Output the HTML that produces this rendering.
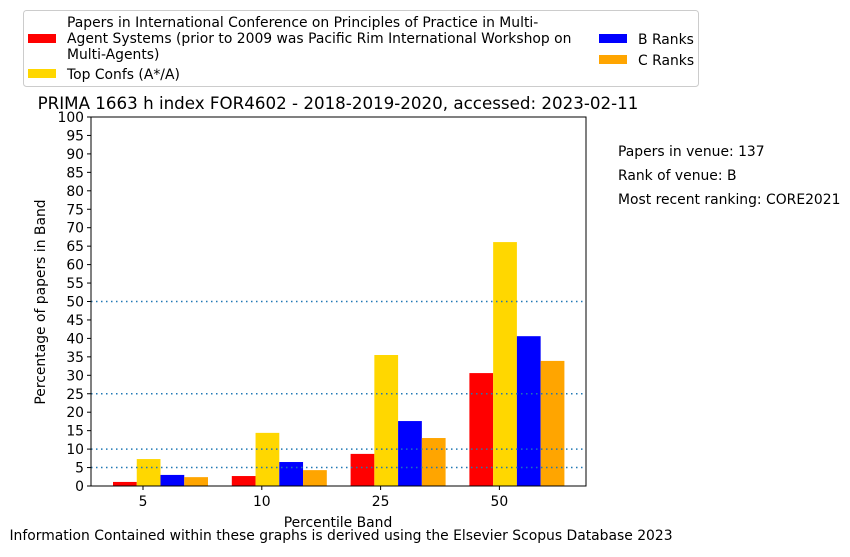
<!DOCTYPE html>
<html><head><meta charset="utf-8"><style>
body{margin:0;background:#fff;font-family:"Liberation Sans","DejaVu Sans",sans-serif;}
svg text{font-family:"DejaVu Sans","Liberation Sans",sans-serif;}
</style></head><body>
<svg id="chart" width="850" height="552" viewBox="0 0 850 552" xmlns="http://www.w3.org/2000/svg">
<g>
<rect x="23.5" y="10.5" width="675" height="76" fill="#fff" stroke="#ccc" rx="3"/>
<rect x="28" y="34" width="28" height="9" fill="#ff0000"/>
<text x="67" y="27" font-size="13.9"><tspan x="67">Papers in International Conference on Principles of Practice in Multi-</tspan><tspan x="67" dy="16">Agent Systems (prior to 2009 was Pacific Rim International Workshop on</tspan><tspan x="67" dy="16">Multi-Agents)</tspan></text>
<rect x="28" y="69" width="28" height="9" fill="#ffd700"/>
<text x="67" y="79" font-size="13.9">Top Confs (A*/A)</text>
<rect x="599" y="34" width="28" height="9" fill="#0000ff"/>
<text x="638" y="44" font-size="13.9">B Ranks</text>
<rect x="599" y="55" width="28" height="9" fill="#ffa500"/>
<text x="638" y="65" font-size="13.9">C Ranks</text>
</g>
<text x="338" y="109" font-size="16.7" text-anchor="middle">PRIMA 1663 h index FOR4602 - 2018-2019-2020, accessed: 2023-02-11</text>
<g id="yaxis"></g>
<g id="bars"></g>
<g id="refs"></g>
<g id="xaxis"></g>
<rect x="91" y="117" width="495" height="369" fill="none" stroke="#000" stroke-width="1"/>
<text x="45" y="302" font-size="13.9" text-anchor="middle" transform="rotate(-90 45 302)">Percentage of papers in Band</text>
<text x="338" y="527" font-size="13.9" text-anchor="middle">Percentile Band</text>
<text x="618" y="156" font-size="13.9">Papers in venue: 137</text>
<text x="618" y="180" font-size="13.9">Rank of venue: B</text>
<text x="618" y="204" font-size="13.9">Most recent ranking: CORE2021</text>
<text x="341" y="540" font-size="13.9" text-anchor="middle">Information Contained within these graphs is derived using the Elsevier Scopus Database 2023</text>
</svg>
<script>
const categories = ["5","10","25","50"];
const venueVals = [1.1, 2.7, 8.7, 30.6];
const topVals = [7.3, 14.4, 35.5, 66.1];
const bVals = [3.0, 6.5, 17.6, 40.6];
const cVals = [2.4, 4.3, 13.0, 33.9];
const refLines = [5, 10, 25, 50];
const yTicks = [0,5,10,15,20,25,30,35,40,45,50,55,60,65,70,75,80,85,90,95,100];
const NS = "http://www.w3.org/2000/svg";
function y(v){return 486 - v*3.69;}
function x(i){return 143 + i*118.8;}
const bw = 23.75;
function mk(tag, attrs, parent){const e=document.createElementNS(NS,tag);for(const k in attrs)e.setAttribute(k,attrs[k]);parent.appendChild(e);return e;}
const yax=document.getElementById('yaxis');
yTicks.forEach(t=>{
  const l=mk('line',{x1:87,x2:91,y1:y(t),y2:y(t),stroke:'#000'},yax);
  
  
  const tx=mk('text',{x:84,y:y(t)+5,'font-size':13.9,'text-anchor':'end'},yax);
  tx.textContent=t;
  
  
});
const series=[[venueVals,'#ff0000','venue'],[topVals,'#ffd700','top'],[bVals,'#0000ff','b-rank'],[cVals,'#ffa500','c-rank']];
const bars=document.getElementById('bars');
series.forEach((s,si)=>{
  s[0].forEach((v,i)=>{
    const r=mk('rect',{x:x(i)-30+si*bw,y:y(v),width:bw,height:y(0)-y(v),fill:s[1]},bars);
    
    
  });
});
const refs=document.getElementById('refs');
refLines.forEach(v=>{
  const l=mk('line',{x1:91,x2:586,y1:y(v),y2:y(v),stroke:'#1f77b4','stroke-width':1.5,'stroke-dasharray':'1.5,3.5'},refs);
  
  
});
const xax=document.getElementById('xaxis');
categories.forEach((c,i)=>{
  const l=mk('line',{x1:x(i),x2:x(i),y1:486,y2:490,stroke:'#000'},xax);
  
  
  const t=mk('text',{x:x(i),y:506,'font-size':13.9,'text-anchor':'middle'},xax);
  t.textContent=c;
  
  
});
</script>
</body></html>
